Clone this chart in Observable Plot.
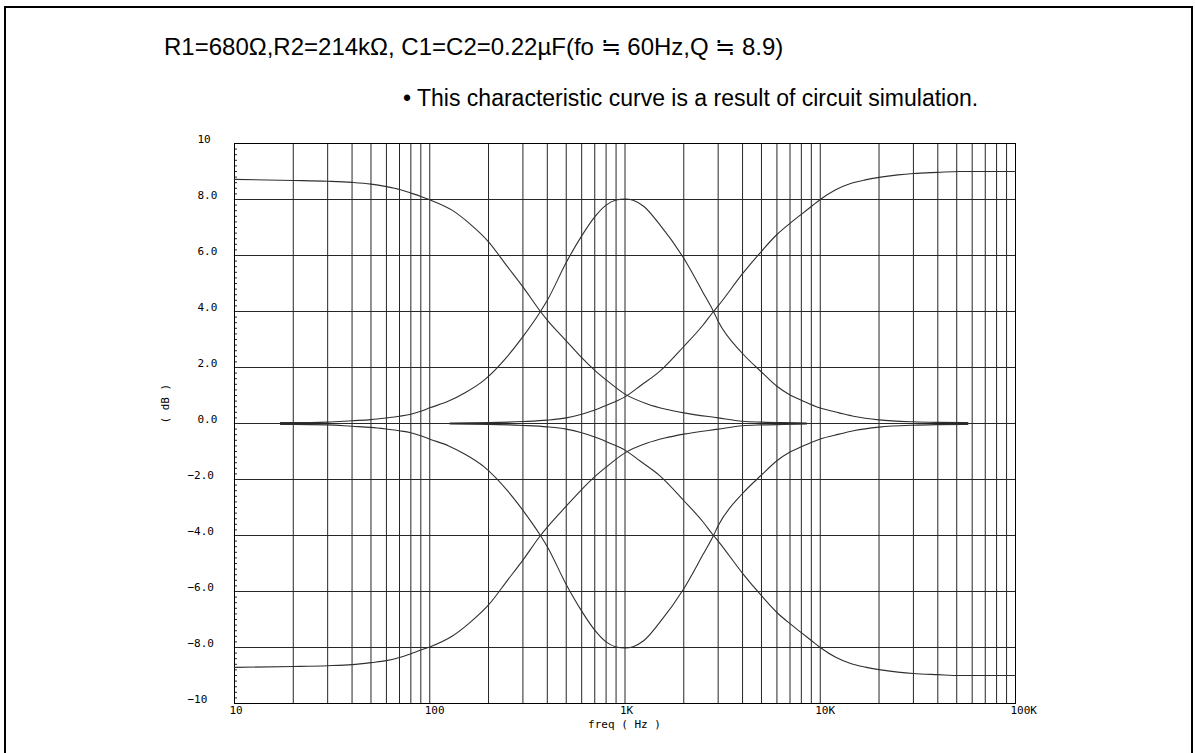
<!DOCTYPE html>
<html><head><meta charset="utf-8">
<script src="https://cdn.jsdelivr.net/npm/d3@7"></script>
<script src="https://cdn.jsdelivr.net/npm/@observablehq/plot@0.6"></script>
<style>
html,body{margin:0;padding:0;background:#fff;overflow:hidden;width:1195px;height:753px;position:relative;}
#frame{position:absolute;left:4px;top:6px;width:1185px;height:800px;border:2px solid #000;border-bottom:none;}
.t{position:absolute;font-family:"Liberation Sans",Arial,sans-serif;white-space:nowrap;color:#000;}
#t1{left:164px;top:35px;font-size:24px;line-height:24px;}
#t2{left:403px;top:87px;font-size:23px;line-height:23px;}
#chart{position:absolute;left:0;top:100px;}
</style></head><body>
<div id="frame"></div>
<div class="t" id="t1">R1=680Ω,R2=214kΩ, C1=C2=0.22µF(fo ≒ 60Hz,Q ≒ 8.9)</div>
<div class="t" id="t2">• This characteristic curve is a result of circuit simulation.</div>
<div id="chart"></div>
<script>
// Low-shelf curves (boost / cut)
const lsFreq = [10,20,30,40,50,60,70,80,90,100,130,160,200,250,300,369,400,500,600,700,800,1000,1300,1600,2000,3000,4000,5000,6500,8500];
const lsBoost = [8.72,8.68,8.65,8.61,8.55,8.46,8.36,8.23,8.11,7.99,7.62,7.14,6.49,5.6,4.88,4.0,3.69,2.95,2.35,1.9,1.56,1.05,0.7,0.52,0.38,0.2,0.08,0.05,0.03,0.02];
const lsCut = [-8.71,-8.68,-8.65,-8.61,-8.54,-8.47,-8.36,-8.22,-8.09,-7.98,-7.6,-7.12,-6.48,-5.6,-4.88,-4.0,-3.7,-2.95,-2.36,-1.9,-1.56,-1.05,-0.7,-0.52,-0.38,-0.2,-0.08,-0.05,-0.03,-0.02];

// Peaking (bell) curves at 1 kHz
const bellFreq = [17.2,20,30,40,50,60,70,80,90,100,125,150,190,250,300,369,400,500,600,700,800,900,1000,1100,1250,1500,2000,2500,2840,3000,4000,5000,6000,7000,8000,10000,12500,15000,20000,30000,40000,57000];
const bellBoost = [0.03,0.03,0.05,0.1,0.14,0.2,0.26,0.33,0.44,0.56,0.8,1.08,1.55,2.4,3.1,4.0,4.4,5.75,6.7,7.38,7.8,7.98,8.02,7.97,7.75,7.12,5.9,4.7,4.0,3.65,2.5,1.84,1.33,1.02,0.83,0.55,0.38,0.25,0.13,0.06,0.04,0.03];
const bellCut = [-0.03,-0.03,-0.05,-0.1,-0.14,-0.2,-0.26,-0.33,-0.44,-0.56,-0.8,-1.08,-1.55,-2.4,-3.1,-4.0,-4.4,-5.75,-6.7,-7.38,-7.8,-7.98,-8.02,-7.97,-7.75,-7.12,-5.9,-4.7,-4.0,-3.65,-2.5,-1.84,-1.33,-1.02,-0.83,-0.55,-0.38,-0.25,-0.13,-0.06,-0.04,-0.03];

// High-shelf curves (boost / cut)
const hsFreq = [127,200,300,400,500,600,700,850,1000,1200,1500,2000,2500,2840,3000,4000,5000,6000,7000,8000,9000,10000,12000,14300,17000,20000,25000,30000,40000,52000,100000];
const hsBoost = [0.02,0.03,0.07,0.12,0.2,0.33,0.48,0.72,0.95,1.35,1.85,2.75,3.5,4.0,4.2,5.35,6.15,6.75,7.15,7.47,7.75,8.0,8.35,8.57,8.7,8.79,8.88,8.93,8.97,9.0,9.0];
const hsCut = [-0.02,-0.03,-0.07,-0.12,-0.2,-0.33,-0.48,-0.72,-0.95,-1.35,-1.85,-2.75,-3.5,-4.0,-4.2,-5.35,-6.15,-6.75,-7.15,-7.47,-7.75,-8.0,-8.35,-8.57,-8.7,-8.79,-8.88,-8.93,-8.97,-9.0,-9.0];

// Axes / grid
const xGrid = [10,20,30,40,50,60,70,80,90,100,200,300,400,500,600,700,800,900,1000,2000,3000,4000,5000,6000,7000,8000,9000,10000,20000,30000,40000,50000,60000,70000,80000,90000,100000];
const xTickVals = [10,100,1000,10000,100000];
const xTickText = ["10","100","1K","10K","100K"];
const yGrid = [-10,-8,-6,-4,-2,0,2,4,6,8,10];
const yTickText = ["−10","−8.0","−6.0","−4.0","−2.0","0.0","2.0","4.0","6.0","8.0","10"];
const yMinor = d3.range(-100, 101, 2).map(v => v / 10);

const series = [];
const addSeries = (id, fs, vs) => fs.forEach((f, i) => series.push({id, f, db: vs[i]}));
addSeries("lsBoost", lsFreq, lsBoost);
addSeries("lsCut", lsFreq, lsCut);
addSeries("bellBoost", bellFreq, bellBoost);
addSeries("bellCut", bellFreq, bellCut);
addSeries("hsBoost", hsFreq, hsBoost);
addSeries("hsCut", hsFreq, hsCut);

const yLabels = yGrid.map((v, i) => ({v, t: yTickText[i]}));
const xLabels = xTickVals.map((v, i) => ({v, t: xTickText[i]}));

const marginLeft = 234, marginRight = 180;
const W = 1195;
const plotW = W - marginLeft - marginRight;

const chart = Plot.plot({
  width: W,
  height: 653,
  marginLeft, marginRight,
  marginTop: 43,
  marginBottom: 50,
  x: {type: "log", domain: [10, 100000], axis: null},
  y: {domain: [-10, 10], axis: null},
  style: {background: "transparent", fontFamily: "'DejaVu Sans Mono', monospace", fontSize: "11px", color: "#000"},
  marks: [
    Plot.ruleX(xGrid, {stroke: "#262626", strokeWidth: 1}),
    Plot.ruleY(yGrid, {stroke: "#262626", strokeWidth: 1}),
    Plot.tickY(yMinor, {stroke: "#262626", insetRight: plotW - 3}),
    Plot.frame({stroke: "#000", strokeWidth: 1}),
    Plot.line(series, {x: "f", y: "db", z: "id", stroke: "#303030", strokeWidth: 1.1, curve: "monotone-x"}),
    Plot.text(yLabels.filter(d => d.v >= 0), {y: "v", text: "t", frameAnchor: "left", textAnchor: "start", dx: -37, dy: -4, fill: "#000"}),
    Plot.text(yLabels.filter(d => d.v < 0), {y: "v", text: "t", frameAnchor: "left", textAnchor: "start", dx: -47, dy: -4, fill: "#000"}),
    Plot.text(xLabels, {x: "v", text: "t", frameAnchor: "bottom", textAnchor: "start", dx: -5, dy: 10, fill: "#000"}),
    Plot.text(["freq ( Hz )"], {frameAnchor: "bottom", text: d => d, dx: 624 - (marginLeft + plotW / 2), dy: 24, fill: "#000"}),
    Plot.text(["( dB )"], {frameAnchor: "left", text: d => d, rotate: -90, dx: -69, dy: 0, fill: "#000"})
  ]
});
document.getElementById("chart").appendChild(chart);
</script>
</body></html>
